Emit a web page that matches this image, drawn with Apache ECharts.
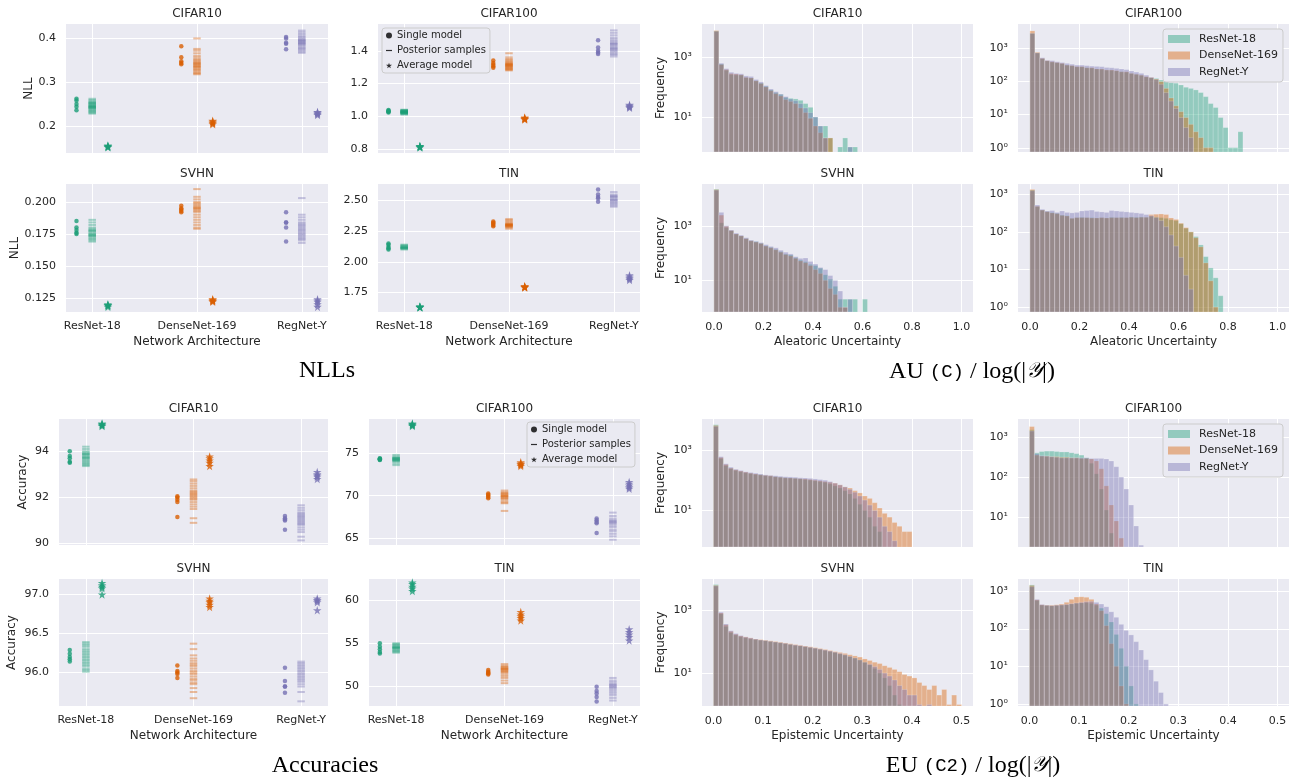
<!DOCTYPE html>
<html><head><meta charset="utf-8">
<script src="https://cdn.jsdelivr.net/npm/echarts@6/dist/echarts.min.js"></script>
<style>html,body{margin:0;padding:0;background:#fff}#c{width:1295px;height:780px}</style>
</head><body><div id="c"></div>
<script>
// ---------------- DATA ----------------
const archs = ['ResNet-18', 'DenseNet-169', 'RegNet-Y'];

// NLL, CIFAR10  ([ResNet-18], [DenseNet-169], [RegNet-Y])
const nllC10Single = [[0.262,0.258,0.250,0.244,0.236],[0.382,0.357,0.348,0.344,0.341],[0.403,0.400,0.390,0.388,0.375]];
const nllC10Post = [[0.262,0.259,0.256,0.254,0.253,0.252,0.250,0.249,0.247,0.246,0.245,0.244,0.243,0.242,0.241,0.240,0.238,0.236,0.234,0.232,0.230,0.228],
  [0.400,0.376,0.372,0.366,0.360,0.356,0.352,0.350,0.347,0.345,0.343,0.342,0.340,0.338,0.336,0.335,0.333,0.330,0.328,0.325,0.322,0.320,0.318],
  [0.418,0.414,0.410,0.406,0.403,0.400,0.398,0.396,0.395,0.394,0.392,0.390,0.389,0.388,0.386,0.384,0.381,0.378,0.376,0.373,0.370,0.367]];
const nllC10Avg = [[0.151,0.152,0.153,0.155,0.154],[0.204,0.206,0.208,0.210,0.212],[0.225,0.227,0.229,0.231,0.232]];

// NLL, CIFAR100
const nllC100Single = [[1.022,1.027,1.030,1.034,1.038],[1.296,1.305,1.315,1.325,1.340],[1.465,1.420,1.400,1.390,1.380]];
const nllC100Post = [[1.010,1.013,1.016,1.018,1.020,1.021,1.022,1.024,1.025,1.026,1.028,1.029,1.030,1.032,1.034,1.036,1.038,1.040],
  [1.385,1.360,1.350,1.342,1.336,1.330,1.325,1.320,1.318,1.316,1.312,1.310,1.308,1.304,1.300,1.296,1.292,1.288,1.284,1.280],
  [1.525,1.510,1.495,1.480,1.470,1.460,1.450,1.445,1.442,1.435,1.428,1.420,1.415,1.412,1.405,1.398,1.390,1.382,1.375,1.365]];
const nllC100Avg = [[0.808,0.811,0.814,0.816,0.818],[0.980,0.983,0.986,0.989,0.992],[1.052,1.057,1.061,1.065,1.070]];

// NLL, SVHN
const nllSvhnSingle = [[0.185,0.180,0.178,0.176,0.175],[0.197,0.195,0.194,0.193,0.192],[0.192,0.184,0.184,0.180,0.169]];
const nllSvhnPost = [[0.186,0.184,0.182,0.180,0.179,0.178,0.1775,0.177,0.176,0.175,0.1745,0.174,0.1735,0.173,0.172,0.171,0.170,0.169],
  [0.210,0.204,0.202,0.200,0.199,0.198,0.197,0.196,0.195,0.195,0.194,0.193,0.192,0.190,0.188,0.186,0.184,0.182,0.180,0.179],
  [0.203,0.190,0.188,0.186,0.184,0.183,0.182,0.181,0.180,0.179,0.178,0.177,0.176,0.175,0.174,0.173,0.172,0.171,0.170,0.168]];
const nllSvhnAvg = [[0.118,0.119,0.119,0.120,0.1195],[0.122,0.123,0.1225,0.124,0.1235],[0.118,0.120,0.122,0.123,0.124]];

// NLL, TIN
const nllTinSingle = [[2.10,2.11,2.12,2.14,2.15],[2.29,2.30,2.31,2.32,2.33],[2.59,2.55,2.53,2.52,2.49]];
const nllTinPost = [[2.100,2.105,2.110,2.113,2.115,2.118,2.120,2.125,2.130,2.135,2.140],
  [2.35,2.34,2.33,2.32,2.31,2.31,2.305,2.30,2.30,2.295,2.295,2.29,2.285,2.28,2.27],
  [2.57,2.55,2.54,2.535,2.53,2.52,2.51,2.505,2.50,2.49,2.48,2.47,2.46,2.45]];
const nllTinAvg = [[1.625,1.628,1.630,1.632,1.635],[1.790,1.792,1.795,1.798,1.800],[1.85,1.86,1.87,1.88,1.89]];

// Accuracy, CIFAR10
const accC10Single = [[94.0,93.8,93.7,93.55,93.5],[92.05,92.0,91.9,91.8,91.15],[91.2,91.1,91.05,91.0,90.6]];
const accC10Post = [[94.2,94.1,94.0,93.95,93.9,93.88,93.85,93.8,93.75,93.72,93.7,93.65,93.6,93.55,93.5,93.45,93.4,93.36],
  [92.78,92.7,92.6,92.5,92.4,92.3,92.25,92.2,92.15,92.1,92.05,92.0,91.95,91.9,91.8,91.7,91.6,91.5,91.1,90.9],
  [91.66,91.55,91.45,91.35,91.3,91.25,91.2,91.15,91.1,91.05,91.0,90.95,90.9,90.85,90.8,90.7,90.6,90.5,90.3,90.14]];
const accC10Avg = [[95.1,95.12,95.15,95.18,95.2],[93.36,93.5,93.6,93.7,93.77],[92.8,92.9,92.95,93.0,93.1]];

// Accuracy, CIFAR100
const accC100Single = [[74.2,74.25,74.3,74.35,74.4],[69.7,69.85,70.0,70.1,70.25],[67.3,67.1,66.9,66.75,65.6]];
const accC100Post = [[74.8,74.6,74.5,74.45,74.4,74.35,74.3,74.25,74.2,74.15,74.1,74.0,73.8,73.6],
  [70.6,70.4,70.3,70.2,70.1,70.0,69.95,69.9,69.8,69.7,69.6,69.4,69.2,69.1,68.2],
  [68.0,67.6,67.3,67.1,67.0,66.9,66.8,66.7,66.5,66.3,66.0,65.8,65.5,65.2,64.8]];
const accC100Avg = [[78.2,78.3,78.35,78.45,78.5],[73.5,73.65,73.7,73.8,73.95],[70.8,71.0,71.2,71.4,71.6]];

// Accuracy, SVHN
const accSvhnSingle = [[96.29,96.24,96.20,96.17,96.14],[96.09,96.02,96.0,95.98,95.93],[96.06,95.89,95.82,95.82,95.74]];
const accSvhnPost = [[96.39,96.37,96.35,96.33,96.3,96.28,96.26,96.24,96.22,96.2,96.18,96.16,96.14,96.12,96.1,96.08,96.05,96.03,96.01],
  [96.37,96.3,96.22,96.18,96.15,96.12,96.1,96.08,96.05,96.02,96.0,95.98,95.95,95.92,95.9,95.87,95.85,95.8,95.75,95.67],
  [96.14,96.12,96.1,96.08,96.06,96.04,96.02,96.0,95.98,95.96,95.94,95.92,95.9,95.88,95.85,95.82,95.75,95.63]];
const accSvhnAvg = [[97.15,97.12,97.10,97.08,97.0],[96.95,96.92,96.9,96.87,96.84],[96.95,96.93,96.92,96.9,96.8]];

// Accuracy, TIN
const accTinSingle = [[55.0,54.6,54.3,54.0,53.8],[51.9,51.7,51.6,51.5,51.4],[50.0,49.5,49.2,48.8,48.3]];
const accTinPost = [[55.0,54.9,54.8,54.7,54.6,54.55,54.5,54.45,54.4,54.3,54.2,54.1,54.0,53.9],
  [52.6,52.4,52.3,52.2,52.1,52.05,52.0,51.9,51.8,51.7,51.6,51.4,51.2,51.0,50.7,50.4],
  [51.0,50.7,50.5,50.3,50.2,50.1,50.0,49.9,49.8,49.6,49.4,49.2,49.0,48.7,48.4]];
const accTinAvg = [[61.0,61.3,61.5,61.8,62.0],[57.6,57.9,58.1,58.3,58.6],[55.3,55.7,56.0,56.3,56.6]];

// Histogram bin widths
const auBinWidth = 0.02;
const euBinWidth = 0.01;

// Aleatoric uncertainty histograms (counts per bin, starting at 0)
const auC10ResNet = [7400,580,360,260,250,250,205,200,160,135,105,80,65,57,45,42,40,36,28,21,10,5,5,2,0,1,2,1,1];
const auC10DenseNet = [7600,560,380,280,270,255,210,200,160,130,100,75,60,50,38,33,28,20,14,9,5,3,2,2];
const auC10RegNet = [7200,620,410,310,285,275,235,225,178,148,112,86,70,58,48,40,35,28,20,14,10,5,2,0,0,0,0,1];

const auC100ResNet = [2700,700,470,400,370,350,330,300,285,265,265,250,245,230,225,212,210,200,190,185,168,158,148,132,124,120,107,96,89,86,76,65,60,54,45,34,21,16,8,4,1,1,3];
const auC100DenseNet = [3200,730,480,410,380,360,340,300,290,270,270,250,250,230,230,215,215,205,190,190,170,160,150,135,128,115,96,60,31,18,12,8,5,3,2,1,1];
const auC100RegNet = [2700,700,500,420,410,380,360,340,320,300,300,290,280,275,270,255,250,240,230,220,200,185,170,150,130,110,80,45,25,15,8,4,2];

const auSvhnResNet = [24000,1350,900,690,520,440,350,290,270,235,190,165,140,115,94,87,69,56,49,39,35,28,16,11,6,2,2,2,2,0,2];
const auSvhnDenseNet = [23000,2600,1000,700,520,440,350,290,260,230,185,160,135,110,90,80,65,52,45,35,25,18,10,5,3,1,1];
const auSvhnRegNet = [22000,3300,1050,730,560,470,380,310,280,250,210,180,160,130,110,95,75,65,67,50,40,30,25,15,10,4,1,2];

const auTinResNet = [1300,470,380,345,325,310,280,270,230,240,245,240,240,235,240,235,245,240,245,240,250,245,250,245,260,250,240,230,210,200,165,125,100,75,45,22,11,6,2];
const auTinDenseNet = [1350,480,380,345,320,305,275,265,230,240,240,240,235,235,240,235,240,240,240,240,245,240,245,245,290,295,300,290,235,215,170,130,100,70,40,15,5,1];
const auTinRegNet = [1250,520,400,360,370,330,360,330,320,330,360,370,380,350,340,330,370,360,350,340,330,320,310,290,270,240,200,137,83,42,21,7,3];

// Epistemic uncertainty histograms
const euC10ResNet = [6800,520,300,240,210,190,175,165,155,150,140,135,130,125,120,118,115,110,105,100,95,90,85,75,65,55,45,35,25,16,10,6,3,2];
const euC10DenseNet = [6400,560,330,250,220,200,185,170,160,150,145,140,130,125,120,118,115,112,110,105,100,95,90,85,80,70,60,55,45,38,30,25,18,12,8,6,4,3,2,2];
const euC10RegNet = [6000,600,350,270,230,210,190,180,170,160,150,145,140,135,130,128,125,120,118,115,110,105,100,90,80,70,60,50,40,30,22,15,10,6,3,2,1];

const euC100ResNet = [1500,400,430,440,440,430,420,420,400,380,350,300,220,120,50,15,4];
const euC100DenseNet = [1800,350,330,330,320,320,310,310,300,300,290,290,280,250,160,60,20,8,3];
const euC100RegNet = [1400,380,340,330,320,310,300,300,300,300,300,300,290,290,290,280,250,180,100,50,20,6,2];

const euSvhnResNet = [6400,750,300,190,160,140,130,120,115,110,105,100,95,90,85,80,75,72,68,64,60,56,52,48,45,40,37,33,30,26,22,18,14,10,7,4,2,1];
const euSvhnDenseNet = [6000,800,340,210,170,150,140,130,120,115,110,105,100,95,90,85,80,76,72,68,64,60,56,52,48,45,42,38,35,32,28,25,22,20,17,15,13,11,9,8,7,5,4,3,4,2,3,1,2,1];
const euSvhnRegNet = [5800,850,360,220,180,155,140,130,120,112,108,102,97,92,88,82,78,74,70,66,62,58,54,50,46,42,38,34,30,26,22,19,16,13,10,8,6,4,3,2,2,1,0,1];

const euTinResNet = [1450,560,420,410,400,410,420,430,450,470,480,490,470,420,350,250,150,70,30,10,3,1];
const euTinDenseNet = [1400,580,430,420,420,430,450,500,600,690,700,680,600,450,300,120,40,10,3,1];
const euTinRegNet = [1300,600,440,420,410,420,430,440,460,480,500,520,530,500,450,380,280,200,130,90,68,45,27,15,8,4,2,1];

// tick values shown on the log axes
const logTicksOdd = [10, 1000];
const logTicksAll = [1, 10, 100, 1000];
const logTicksEuC100 = [10, 100, 1000];

// ---------------- STYLE / LAYOUT ----------------
const FONT = 'DejaVu Sans';
const TXT = '#262626';
const BG = '#eaeaf2';
const solidColors = ['#1b9e77', '#d95f02', '#7570b3'];
const histColors = ['rgba(27,158,119,0.42)', 'rgba(217,95,2,0.42)', 'rgba(117,112,179,0.42)'];
const STAR = 'path://M50,0 L61.2,34.5 L97.6,34.5 L68.2,55.9 L79.4,90.5 L50,69.1 L20.6,90.5 L31.8,55.9 L2.4,34.5 L38.8,34.5 Z';
const DASH = 'path://M0,0 L10,0 L10,2 L0,2 Z';
const SUP = ['\u2070', '\u00b9', '\u00b2', '\u00b3', '\u2074', '\u2075'];

const scatterPanels = [
  {title:'CIFAR10', left:66, top:24, w:262, h:129, yMin:0.138, yMax:0.433, step:0.1, dec:1, yName:'NLL', yGap:30, xLabels:false, single:nllC10Single, post:nllC10Post, avg:nllC10Avg},
  {title:'CIFAR100', left:378, top:24, w:262, h:129, yMin:0.775, yMax:1.564, step:0.2, dec:1, yName:'', yGap:30, xLabels:false, single:nllC100Single, post:nllC100Post, avg:nllC100Avg},
  {title:'SVHN', left:66, top:184, w:262, h:128, yMin:0.114, yMax:0.214, step:0.025, dec:3, yName:'NLL', yGap:45, xLabels:true, single:nllSvhnSingle, post:nllSvhnPost, avg:nllSvhnAvg},
  {title:'TIN', left:378, top:184, w:262, h:128, yMin:1.589, yMax:2.636, step:0.25, dec:2, yName:'', yGap:30, xLabels:true, single:nllTinSingle, post:nllTinPost, avg:nllTinAvg},
  {title:'CIFAR10', left:59, top:419, w:269, h:126, yMin:89.94, yMax:95.40, step:2, dec:0, yName:'Accuracy', yGap:30, xLabels:false, single:accC10Single, post:accC10Post, avg:accC10Avg},
  {title:'CIFAR100', left:369, top:419, w:271, h:126, yMin:64.18, yMax:79.04, step:5, dec:0, yName:'', yGap:30, xLabels:false, single:accC100Single, post:accC100Post, avg:accC100Avg},
  {title:'SVHN', left:59, top:579, w:269, h:127, yMin:95.57, yMax:97.2, step:0.5, dec:1, yName:'Accuracy', yGap:41, xLabels:true, single:accSvhnSingle, post:accSvhnPost, avg:accSvhnAvg},
  {title:'TIN', left:369, top:579, w:271, h:127, yMin:47.77, yMax:62.39, step:5, dec:0, yName:'', yGap:30, xLabels:true, single:accTinSingle, post:accTinPost, avg:accTinAvg}
];

const histPanels = [
  {title:'CIFAR10', left:702, top:24, w:271, h:128, xMin:-0.048, xMax:1.046, xStep:0.2, binW:auBinWidth, yMin:0.68, yMax:12600, ticks:logTicksOdd, yName:'Frequency', xName:'', counts:[auC10ResNet, auC10DenseNet, auC10RegNet]},
  {title:'CIFAR100', left:1018, top:24, w:271, h:128, xMin:-0.048, xMax:1.046, xStep:0.2, binW:auBinWidth, yMin:0.74, yMax:5150, ticks:logTicksAll, yName:'', xName:'', counts:[auC100ResNet, auC100DenseNet, auC100RegNet]},
  {title:'SVHN', left:702, top:184, w:271, h:128, xMin:-0.048, xMax:1.046, xStep:0.2, binW:auBinWidth, yMin:0.67, yMax:37000, ticks:logTicksOdd, yName:'Frequency', xName:'Aleatoric Uncertainty', counts:[auSvhnResNet, auSvhnDenseNet, auSvhnRegNet]},
  {title:'TIN', left:1018, top:184, w:271, h:128, xMin:-0.048, xMax:1.046, xStep:0.2, binW:auBinWidth, yMin:0.74, yMax:1880, ticks:logTicksAll, yName:'', xName:'Aleatoric Uncertainty', counts:[auTinResNet, auTinDenseNet, auTinRegNet]},
  {title:'CIFAR10', left:702, top:419, w:271, h:128, xMin:-0.023, xMax:0.523, xStep:0.1, binW:euBinWidth, yMin:0.62, yMax:10500, ticks:logTicksOdd, yName:'Frequency', xName:'', counts:[euC10ResNet, euC10DenseNet, euC10RegNet]},
  {title:'CIFAR100', left:1018, top:419, w:271, h:128, xMin:-0.023, xMax:0.523, xStep:0.1, binW:euBinWidth, yMin:1.8, yMax:2780, ticks:logTicksEuC100, yName:'', xName:'', counts:[euC100ResNet, euC100DenseNet, euC100RegNet]},
  {title:'SVHN', left:702, top:579, w:271, h:127, xMin:-0.023, xMax:0.523, xStep:0.1, binW:euBinWidth, yMin:0.9, yMax:9600, ticks:logTicksOdd, yName:'Frequency', xName:'Epistemic Uncertainty', counts:[euSvhnResNet, euSvhnDenseNet, euSvhnRegNet]},
  {title:'TIN', left:1018, top:579, w:271, h:127, xMin:-0.023, xMax:0.523, xStep:0.1, binW:euBinWidth, yMin:0.88, yMax:2080, ticks:logTicksAll, yName:'', xName:'Epistemic Uncertainty', counts:[euTinResNet, euTinDenseNet, euTinRegNet]}
];

// ---------------- BUILD ----------------
const grids = [], xAxes = [], yAxes = [], series = [], graphics = [];
const lbl = {fontFamily: FONT, fontSize: 11, color: TXT};
const nameStyle = {fontFamily: FONT, fontSize: 12, color: TXT};
const splitWhite = {show: true, showMinLine: false, showMaxLine: false, lineStyle: {color: '#ffffff', width: 1}};

function addTitle(text, cx, cy) {
  graphics.push({type: 'text', x: cx, y: cy, silent: true,
    style: {text: text, fontFamily: FONT, fontSize: 12, fill: TXT, align: 'center', verticalAlign: 'middle'}});
}

function addGrid(p) {
  const gi = grids.length;
  grids.push({left: p.left, top: p.top, width: p.w, height: p.h, show: true, backgroundColor: BG, borderWidth: 0});
  addTitle(p.title, p.left + p.w / 2, p.top - 10);
  return gi;
}

scatterPanels.forEach(p => {
  const gi = addGrid(p);
  xAxes.push({gridIndex: gi, type: 'value', min: -0.25, max: 2.25, minInterval: 1, maxInterval: 1,
    axisLine: {show: false}, axisTick: {show: false}, splitLine: splitWhite,
    axisLabel: Object.assign({show: p.xLabels, margin: 9, showMinLabel: false, showMaxLabel: false,
      formatter: v => (Math.abs(v - Math.round(v)) < 1e-9 && archs[Math.round(v)]) ? archs[Math.round(v)] : ''}, lbl),
    name: p.xLabels ? 'Network Architecture' : '', nameLocation: 'middle', nameGap: 24, nameTextStyle: nameStyle});
  yAxes.push({gridIndex: gi, type: 'value', min: p.yMin, max: p.yMax, minInterval: p.step, maxInterval: p.step,
    axisLine: {show: false}, axisTick: {show: false}, splitLine: splitWhite,
    axisLabel: Object.assign({margin: 10, showMinLabel: false, showMaxLabel: false, formatter: v => v.toFixed(p.dec)}, lbl),
    name: p.yName, nameLocation: 'middle', nameGap: p.yGap, nameTextStyle: nameStyle});
  archs.forEach((a, k) => {
    series.push({type: 'scatter', name: 'post-' + gi + '-' + k, xAxisIndex: gi, yAxisIndex: gi, silent: true,
      symbol: 'rect', symbolSize: [7.5, 2], itemStyle: {color: solidColors[k], opacity: 0.38},
      data: p.post[k].map(v => [k, v])});
    series.push({type: 'scatter', name: 'single-' + gi + '-' + k, xAxisIndex: gi, yAxisIndex: gi, silent: true,
      symbol: 'circle', symbolSize: 4.5, itemStyle: {color: solidColors[k]},
      data: p.single[k].map(v => [k - 0.15, v])});
    series.push({type: 'scatter', name: 'avg-' + gi + '-' + k, xAxisIndex: gi, yAxisIndex: gi, silent: true,
      symbol: STAR, symbolSize: 8.5, itemStyle: {color: solidColors[k]},
      data: p.avg[k].map(v => [k + 0.15, v])});
  });
});

function renderBar(params, api) {
  const cs = params.coordSys;
  const p0 = api.coord([api.value(0), api.value(2)]);
  const p1 = api.coord([api.value(1), api.value(2)]);
  const bottom = cs.y + cs.height;
  const top = Math.max(p0[1], cs.y);
  if (top >= bottom) return null;
  return {type: 'rect', shape: {x: p0[0], y: top, width: p1[0] - p0[0], height: bottom - top},
    style: Object.assign(api.style(), {stroke: 'rgba(255,255,255,0.3)', lineWidth: 0.6})};
}

function renderGridLine(params, api) {
  const cs = params.coordSys;
  const pt = api.coord([api.value(0), api.value(1)]);
  const y = Math.round(pt[1]) + 0.5;
  return {type: 'line', shape: {x1: cs.x, y1: y, x2: cs.x + cs.width, y2: y}, style: {stroke: '#ffffff', lineWidth: 1}};
}

histPanels.forEach(p => {
  const gi = addGrid(p);
  xAxes.push({gridIndex: gi, type: 'value', min: p.xMin, max: p.xMax, minInterval: p.xStep, maxInterval: p.xStep,
    axisLine: {show: false}, axisTick: {show: false}, splitLine: splitWhite,
    axisLabel: Object.assign({show: !!p.xName, margin: 10, showMinLabel: false, showMaxLabel: false,
      formatter: v => { const k = Math.round(v / p.xStep); return Math.abs(v - k * p.xStep) < 1e-9 ? (k * p.xStep).toFixed(1) : ''; }}, lbl),
    name: p.xName, nameLocation: 'middle', nameGap: 24, nameTextStyle: nameStyle});
  yAxes.push({gridIndex: gi, type: 'log', logBase: 10, min: p.yMin, max: p.yMax,
    axisLine: {show: false}, axisTick: {show: false}, splitLine: {show: false},
    axisLabel: Object.assign({margin: 10, formatter: v => {
      const l = Math.log10(v); const e = Math.round(l);
      if (Math.abs(l - e) > 1e-6 || p.ticks.indexOf(Math.pow(10, e)) < 0) return '';
      return '10' + SUP[e];
    }}, lbl),
    name: p.yName, nameLocation: 'middle', nameGap: 35, nameTextStyle: nameStyle});
  series.push({type: 'custom', name: 'grid-' + gi, xAxisIndex: gi, yAxisIndex: gi, z: 1, silent: true,
    data: p.ticks.map(t => [p.xMin, t]), encode: {x: 0, y: 1}, renderItem: renderGridLine});
  p.counts.forEach((arr, k) => {
    const data = [];
    arr.forEach((c, i) => { if (c > 0) data.push([i * p.binW, (i + 1) * p.binW, c]); });
    series.push({type: 'custom', name: archs[k], xAxisIndex: gi, yAxisIndex: gi, z: 2, silent: true,
      itemStyle: {color: histColors[k]}, data: data, encode: {x: [0, 1], y: 2}, renderItem: renderBar});
  });
});

// dummy series for the marker legend
['Single model', 'Posterior samples', 'Average model'].forEach(n => {
  series.push({type: 'scatter', name: n, xAxisIndex: 0, yAxisIndex: 0, data: [], itemStyle: {color: '#000'}});
});

const markerLegendBase = {
  orient: 'vertical', itemWidth: 6, itemHeight: 6, itemGap: 4, selectedMode: false,
  data: [{name: 'Single model', icon: 'circle'}, {name: 'Posterior samples', icon: DASH}, {name: 'Average model', icon: STAR}],
  textStyle: {fontFamily: FONT, fontSize: 10, color: TXT, lineHeight: 11},
  backgroundColor: BG, borderColor: '#cccccc', borderWidth: 1, borderRadius: 3, padding: [2, 4, 2, 4]
};
const archLegendBase = {
  orient: 'vertical', itemWidth: 22, itemHeight: 8, itemGap: 4.5, selectedMode: false, icon: 'rect',
  data: archs.slice(),
  textStyle: {fontFamily: FONT, fontSize: 11, color: TXT, lineHeight: 12, padding: [0, 0, 0, 4]},
  backgroundColor: BG, borderColor: '#cccccc', borderWidth: 1, borderRadius: 3, padding: [4, 5, 4, 5]
};

// captions
const serif = 'Liberation Serif';
graphics.push({type: 'text', x: 327, y: 371, silent: true, style: {text: 'NLLs', fontFamily: serif, fontSize: 24, fill: '#000', align: 'center', verticalAlign: 'middle'}});
graphics.push({type: 'text', x: 325, y: 766, silent: true, style: {text: 'Accuracies', fontFamily: serif, fontSize: 24, fill: '#000', align: 'center', verticalAlign: 'middle'}});
const richCap = {
  r: {fontFamily: serif, fontSize: 24, fill: '#000', color: '#000'},
  m: {fontFamily: 'Liberation Mono', fontSize: 19, fill: '#000', color: '#000'},
  s: {fontFamily: 'DejaVu Serif', fontSize: 21, fontStyle: 'italic', fill: '#000', color: '#000'}
};
graphics.push({type: 'text', x: 972, y: 372, silent: true, style: {text: '{r|AU }{m|(C)}{r| / log(|}{s|\uD835\uDCB4}{r||)}', rich: richCap, align: 'center', verticalAlign: 'middle'}});
graphics.push({type: 'text', x: 973, y: 766, silent: true, style: {text: '{r|EU }{m|(C2)}{r| / log(|}{s|\uD835\uDCB4}{r||)}', rich: richCap, align: 'center', verticalAlign: 'middle'}});

const option = {
  animation: false,
  backgroundColor: '#ffffff',
  grid: grids, xAxis: xAxes, yAxis: yAxes, series: series,
  legend: [
    Object.assign({left: 382, top: 28}, markerLegendBase),
    Object.assign({left: 527, top: 422}, markerLegendBase),
    Object.assign({left: 1163, top: 29}, archLegendBase),
    Object.assign({left: 1163, top: 424}, archLegendBase)
  ],
  graphic: graphics
};

const chart = echarts.init(document.getElementById('c'), null, {renderer: 'canvas'});
chart.setOption(option);
</script>
</body></html>
